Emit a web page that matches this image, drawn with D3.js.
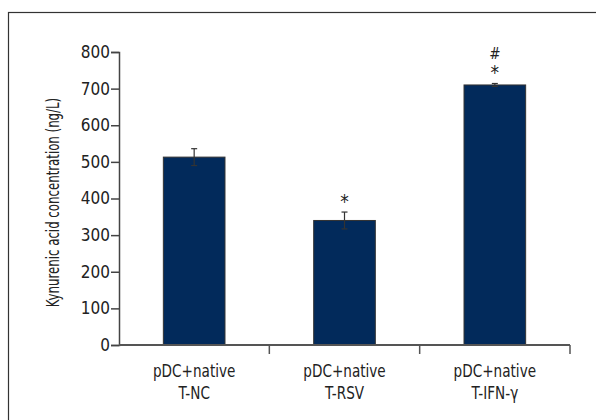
<!DOCTYPE html>
<html>
<head>
<meta charset="utf-8">
<script src="https://cdn.jsdelivr.net/npm/d3@7"></script>
<style>
  body { margin: 0; background: #fff; }
  svg text { font-family: "DejaVu Sans", sans-serif; font-stretch: condensed; fill: #222; }
</style>
</head>
<body>
<div id="chart"></div>
<script>
var grupos = ["pDC+native T-NC", "pDC+native T-RSV", "pDC+native T-IFN-γ"];
var lineas1 = ["pDC+native", "pDC+native", "pDC+native"];
var lineas2 = ["T-NC", "T-RSV", "T-IFN-γ"];
var medias = [513, 340, 710];
var errores = [23, 23, 4];
var marcas = [[], ["*"], ["*", "#"]];
var ticksY = [0, 100, 200, 300, 400, 500, 600, 700, 800];

var w = 596, h = 420;
var izq = 119, der = 570, arriba = 52, abajo = 345;

var svg = d3.select("#chart").append("svg")
  .attr("width", w)
  .attr("height", h);

// marco exterior (solo arriba e izquierda se ven)
svg.append("rect")
  .attr("x", 8.5).attr("y", 12.5)
  .attr("width", 620).attr("height", 440)
  .attr("fill", "none")
  .attr("stroke", "#333")
  .attr("stroke-width", 1.2);

var x = d3.scaleBand()
  .domain(grupos)
  .range([izq, der])
  .paddingInner(0.59)
  .paddingOuter(0.295);

var y = d3.scaleLinear()
  .domain([0, 800])
  .range([abajo, arriba]);

// barras
svg.selectAll("rect.barra")
  .data(medias)
  .enter()
  .append("rect")
  .attr("class", "barra")
  .attr("x", function (d, i) { return x(grupos[i]); })
  .attr("width", x.bandwidth())
  .attr("y", function (d) { return y(d); })
  .attr("height", function (d) { return y(0) - y(d); })
  .attr("fill", "#022a5b")
  .attr("stroke", "#333")
  .attr("stroke-width", 1);

// barras de error
var err = svg.selectAll("g.err")
  .data(medias)
  .enter()
  .append("g")
  .attr("class", "err")
  .attr("stroke", "#333")
  .attr("stroke-width", 1.2);

err.append("line")
  .attr("x1", function (d, i) { return x(grupos[i]) + x.bandwidth() / 2; })
  .attr("x2", function (d, i) { return x(grupos[i]) + x.bandwidth() / 2; })
  .attr("y1", function (d, i) { return y(d + errores[i]); })
  .attr("y2", function (d, i) { return y(d - errores[i]); });

[1, -1].forEach(function (s) {
  err.append("line")
    .attr("x1", function (d, i) { return x(grupos[i]) + x.bandwidth() / 2 - 3; })
    .attr("x2", function (d, i) { return x(grupos[i]) + x.bandwidth() / 2 + 3; })
    .attr("y1", function (d, i) { return y(d + s * errores[i]); })
    .attr("y2", function (d, i) { return y(d + s * errores[i]); });
});

// asteriscos y almohadillas
marcas.forEach(function (m, i) {
  m.forEach(function (s, k) {
    var tope = y(medias[i] + errores[i]);
    svg.append("text")
      .attr("x", x(grupos[i]) + x.bandwidth() / 2)
      .attr("y", s == "*" ? tope - 4 : tope - 24)
      .attr("text-anchor", "middle")
      .style("font-size", s == "*" ? "19px" : "15px")
      .text(s);
  });
});

// eje Y
var ejeY = svg.append("g")
  .attr("transform", "translate(" + izq + ",0)")
  .call(d3.axisLeft(y).tickValues(ticksY).tickSize(8).tickPadding(1));
ejeY.selectAll("text").style("font-size", "17px").attr("fill", "#222");
ejeY.selectAll("line, path").attr("stroke", "#444").attr("stroke-width", 1.5);

// eje X con marcas en los limites de grupo
svg.append("line")
  .attr("x1", izq).attr("x2", der)
  .attr("y1", abajo).attr("y2", abajo)
  .attr("stroke", "#555").attr("stroke-width", 1.8);

var limites = grupos.map(function (g) { return x(g) + x.bandwidth() / 2 + x.step() / 2; });
svg.selectAll("line.lim")
  .data(limites)
  .enter()
  .append("line")
  .attr("class", "lim")
  .attr("x1", function (d) { return d; })
  .attr("x2", function (d) { return d; })
  .attr("y1", abajo)
  .attr("y2", abajo + 9)
  .attr("stroke", "#555")
  .attr("stroke-width", 1.5);

// etiquetas de categoria (letra estrecha y alta)
var etiquetas = svg.selectAll("text.cat")
  .data(grupos)
  .enter()
  .append("text")
  .attr("class", "cat")
  .attr("text-anchor", "middle")
  .attr("transform", function (d) {
    return "translate(" + (x(d) + x.bandwidth() / 2) + ",377) scale(0.84,1)";
  })
  .style("font-size", "18px");
etiquetas.append("tspan")
  .attr("x", 0)
  .text(function (d, i) { return lineas1[i]; });
etiquetas.append("tspan")
  .attr("x", 0)
  .attr("dy", 22)
  .text(function (d, i) { return lineas2[i]; });

// titulo del eje Y
svg.append("text")
  .attr("transform", "translate(59," + ((arriba + abajo) / 2 + 4) + ") rotate(-90) scale(0.77,1)")
  .attr("text-anchor", "middle")
  .style("font-size", "17px")
  .text("Kynurenic acid concentration (ng/L)");
</script>
</body>
</html>
